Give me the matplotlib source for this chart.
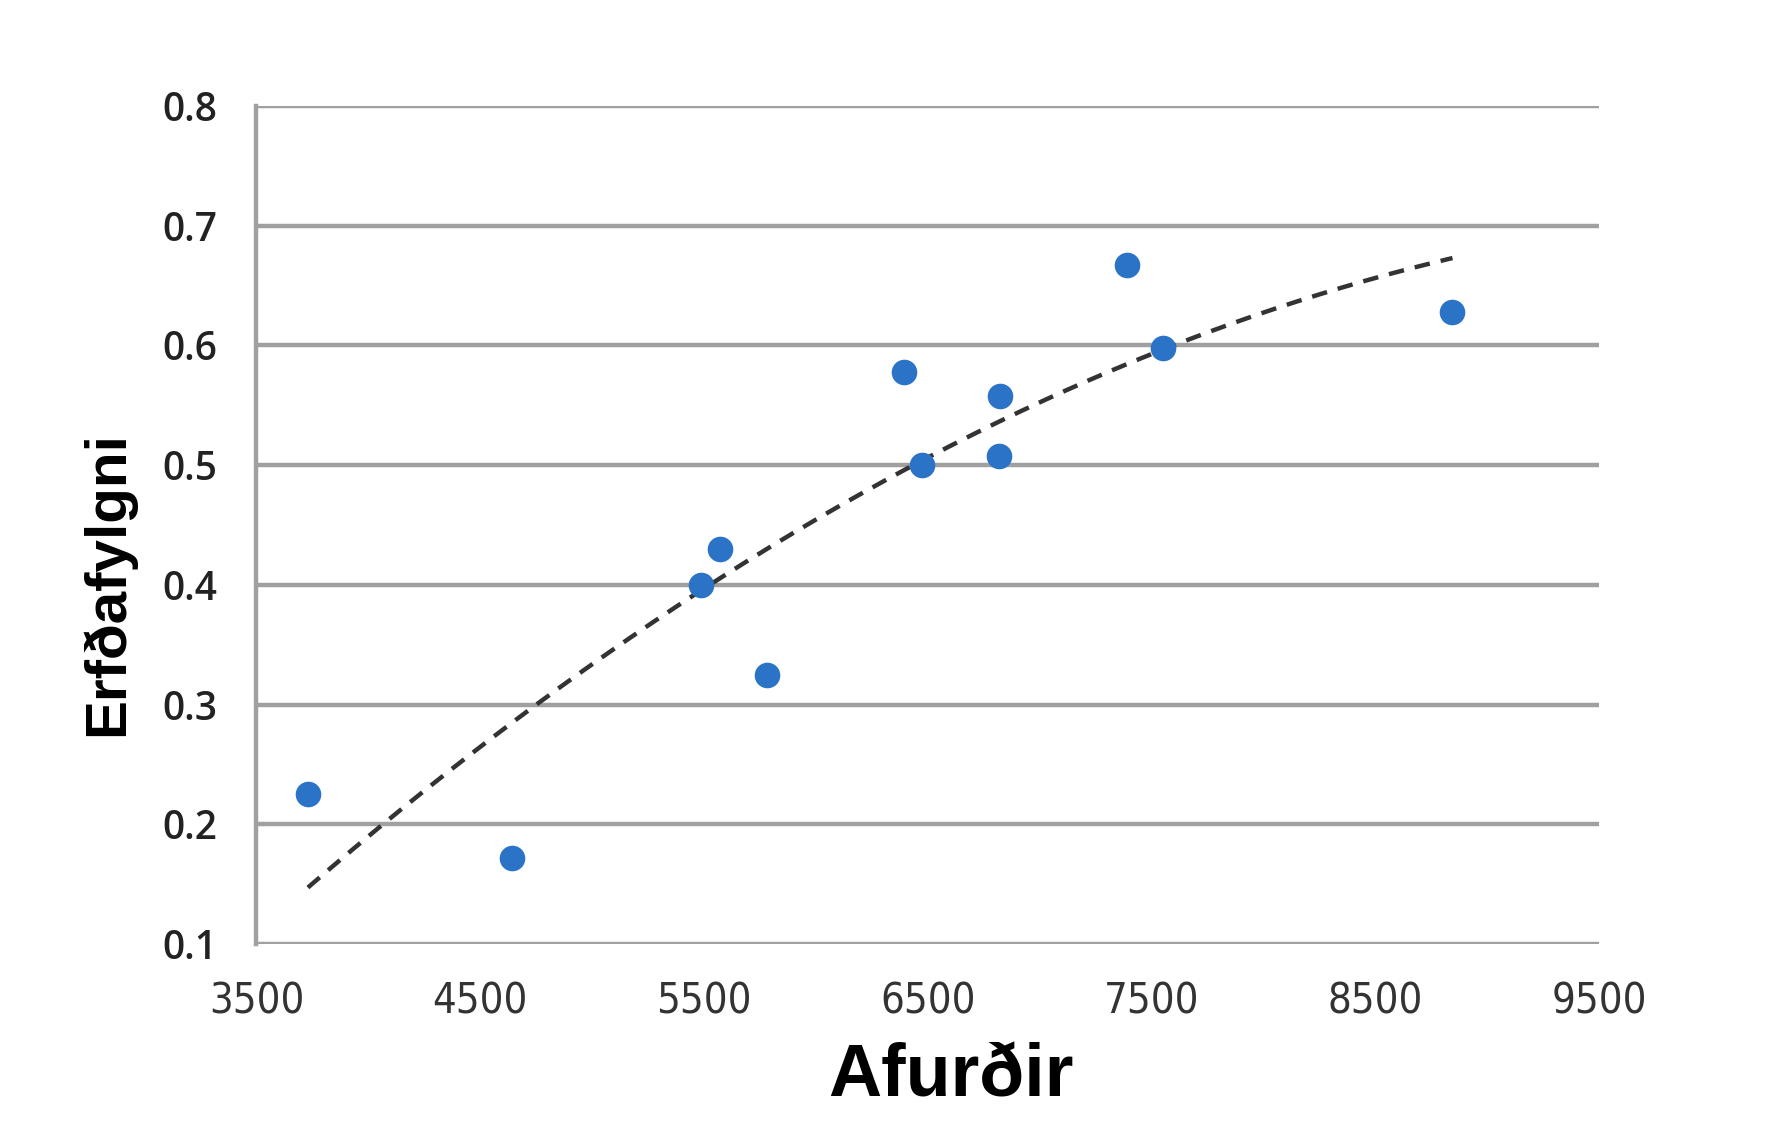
import matplotlib.pyplot as plt
import numpy as np

# Afurðir vs Erfðafylgni
afurdir = [3730, 4640, 5485, 5570, 5780, 6395, 6475, 6825, 6820, 7390, 7550, 8845]
erfdafylgni = [0.225, 0.172, 0.400, 0.430, 0.325, 0.578, 0.500, 0.558, 0.508, 0.667, 0.598, 0.628]

x_ticks = [3500, 4500, 5500, 6500, 7500, 8500, 9500]
y_ticks = [0.1, 0.2, 0.3, 0.4, 0.5, 0.6, 0.7, 0.8]

grid_col = '#a0a0a0'
dot_col = '#2a73c6'

fig = plt.figure(figsize=(17.72, 11.35), dpi=100)
ax = fig.add_axes([0.1447, 0.1683, 0.7577, 0.7383])

ax.scatter(afurdir, erfdafylgni, s=340, color=dot_col, zorder=4, linewidths=0)

# polynomial (2nd order) trendline, like Excel
coef = np.polyfit(afurdir, erfdafylgni, 2)
xt = np.linspace(min(afurdir), max(afurdir), 200)
ax.plot(xt, np.polyval(coef, xt), color='#333333', lw=3.2, ls=(0, (3.5, 2.5)), zorder=3)

ax.set_xlim(3500, 9500)
ax.set_ylim(0.1, 0.8)
ax.set_xticks(x_ticks)
ax.set_yticks(y_ticks)
ax.set_yticklabels([f'{v:.1f}' for v in y_ticks])

ax.yaxis.grid(True, color=grid_col, lw=3.2)
ax.set_axisbelow(True)
for s in ['top', 'right', 'bottom']:
    ax.spines[s].set_visible(False)
ax.spines['left'].set_color(grid_col)
ax.spines['left'].set_linewidth(3.2)
ax.tick_params(length=0)
ax.tick_params(axis='y', pad=28, labelsize=28, labelcolor='#222222')
ax.tick_params(axis='x', pad=26, labelsize=30, labelcolor='#333333')
for t in ax.get_yticklabels():
    t.set_fontfamily('Open Sans')
    t.set_fontweight('semibold')
for t in ax.get_xticklabels():
    t.set_fontfamily('DejaVu Sans')
    t.set_fontstretch('condensed')

ax.set_xlabel('Afurðir', fontsize=53, fontweight='bold', family='Liberation Sans')
ax.xaxis.set_label_coords(0.517, -0.118)
ax.set_ylabel('Erfðafylgni', fontsize=42, fontweight='bold', family='Liberation Sans')
ax.yaxis.set_label_coords(-0.09, 0.43)

fig.savefig('out.png', dpi=100)
